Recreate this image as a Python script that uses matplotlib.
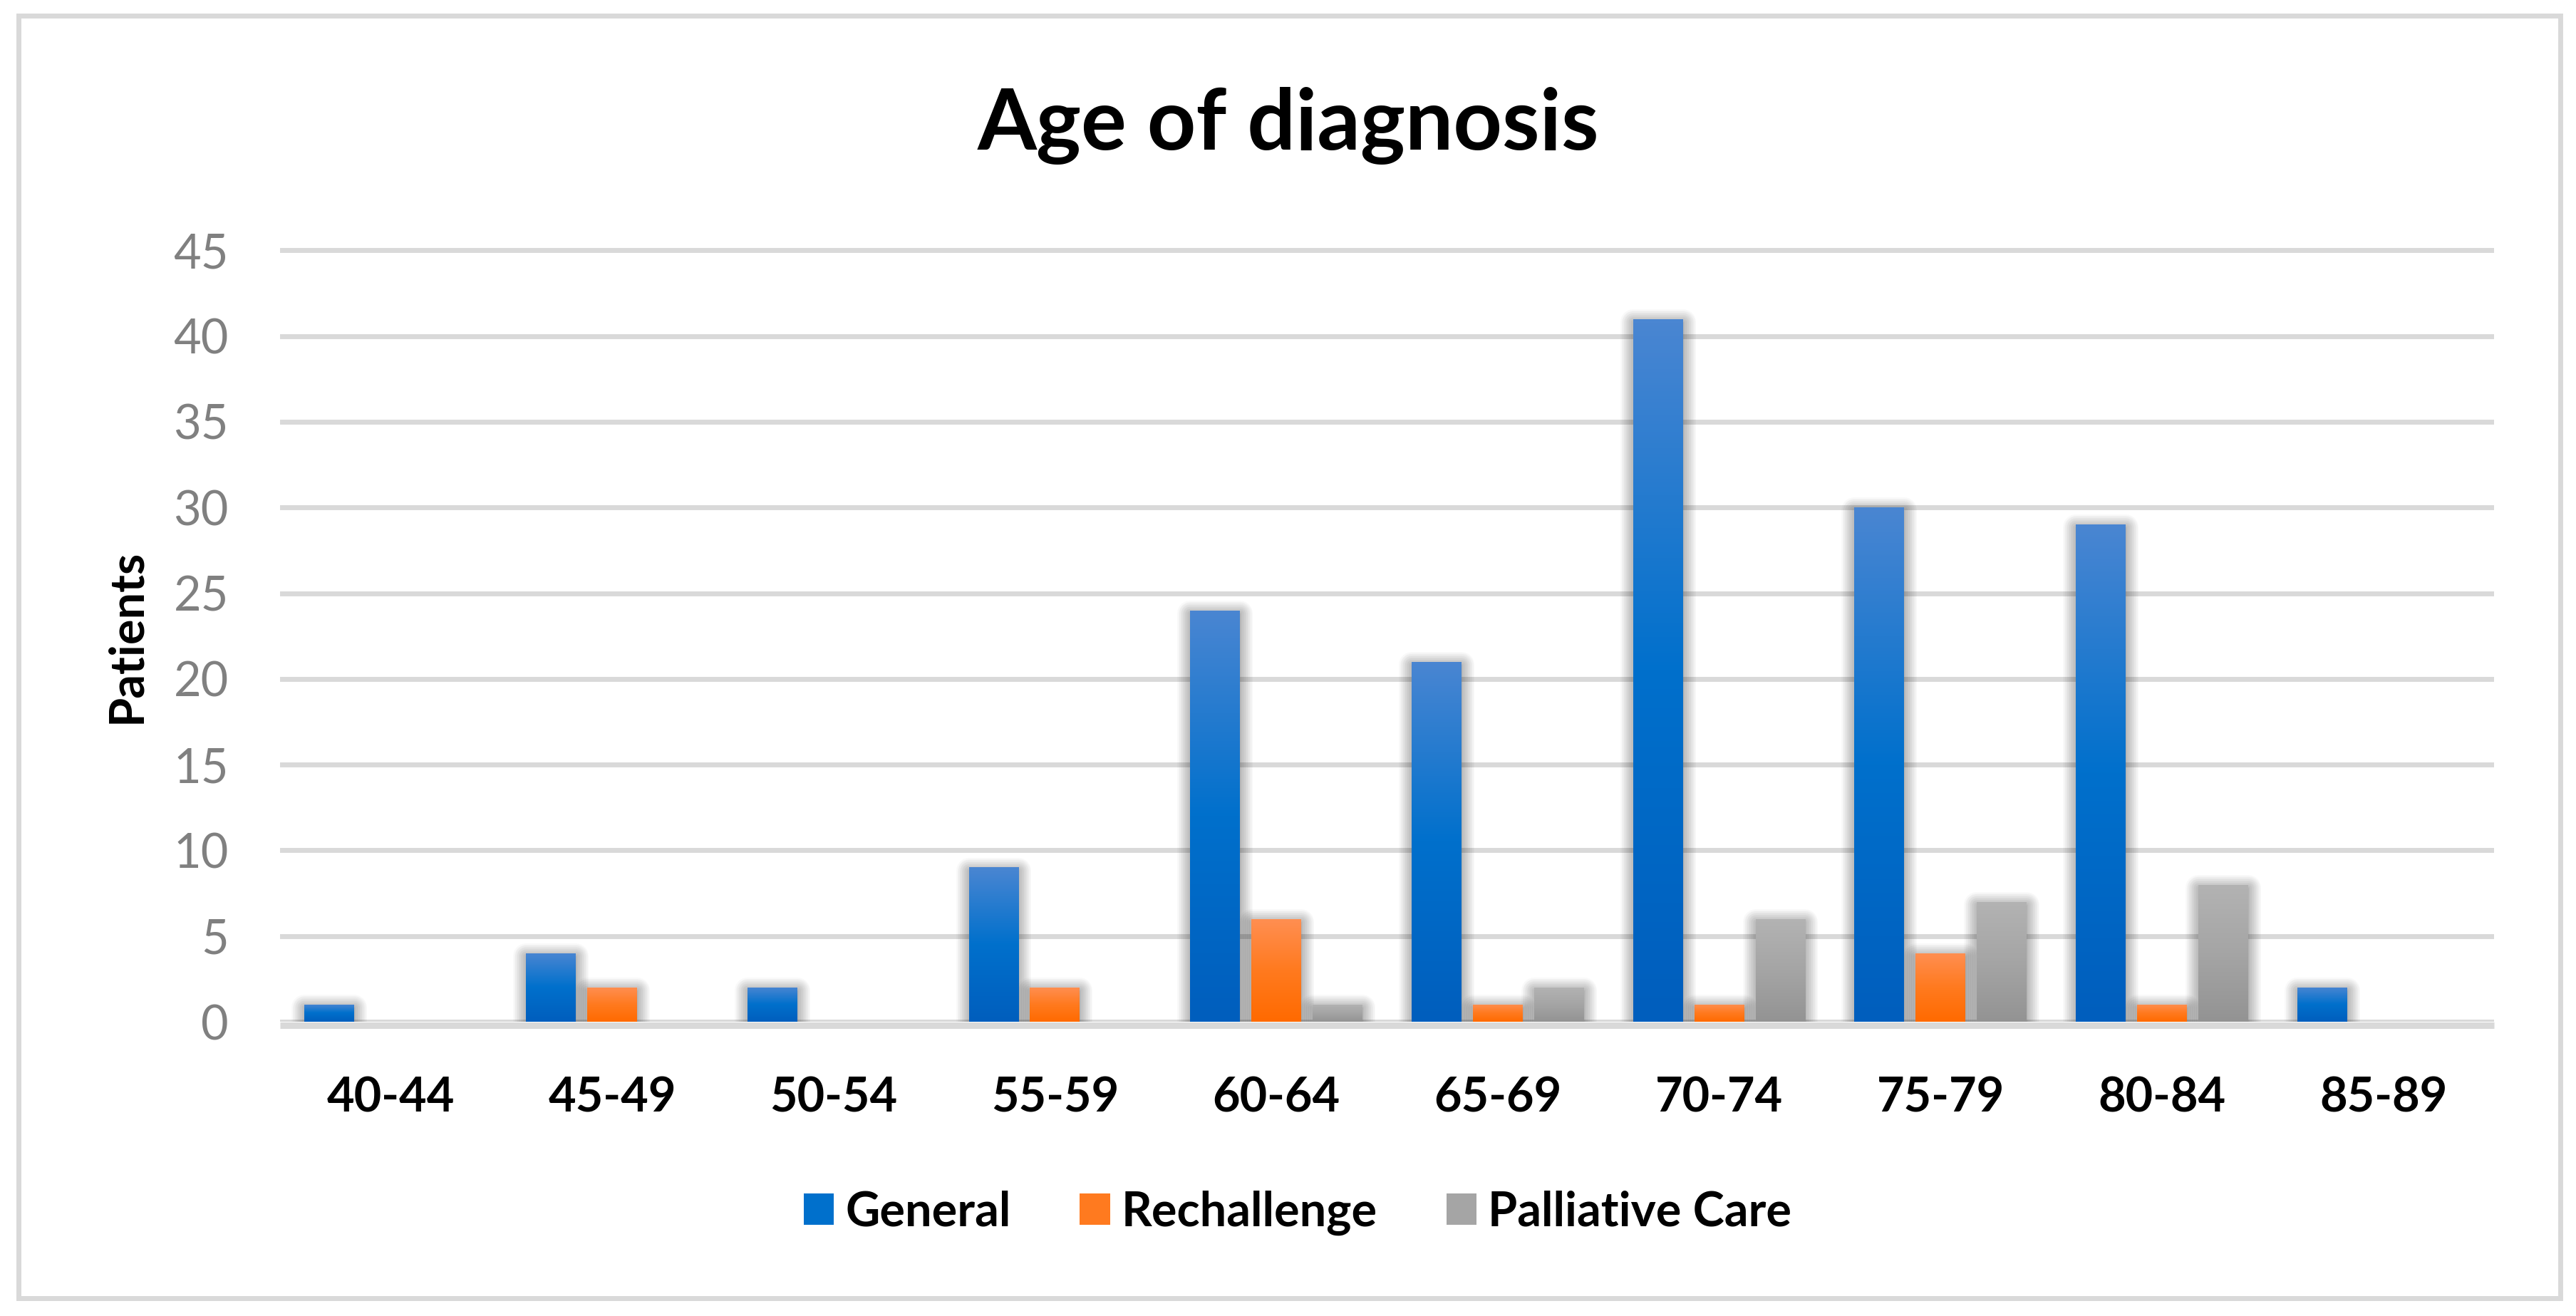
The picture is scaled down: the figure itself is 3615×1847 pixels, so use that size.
import matplotlib.pyplot as plt
import matplotlib.patheffects as pe
import matplotlib.transforms as mtransforms
from matplotlib.colors import LinearSegmentedColormap
from matplotlib.patches import Rectangle
import numpy as np

# Data
age_groups = ['40-44', '45-49', '50-54', '55-59', '60-64',
              '65-69', '70-74', '75-79', '80-84', '85-89']
general = [1, 4, 2, 9, 24, 21, 41, 30, 29, 2]
rechallenge = [0, 2, 0, 2, 6, 1, 1, 4, 1, 0]
palliative = [0, 0, 0, 0, 1, 2, 6, 7, 8, 0]
series_names = ['General', 'Rechallenge', 'Palliative Care']
y_ticks = [0, 5, 10, 15, 20, 25, 30, 35, 40, 45]

# (dark bottom, base middle, light top) for each series gradient
series_colors = [('#005EBD', '#0070CC', '#4A86D2'),
                 ('#FF6A00', '#FF7A1F', '#FF8F52'),
                 ('#939393', '#A5A5A5', '#B3B3B3')]

plt.rcParams['font.family'] = ['Lato', 'DejaVu Sans']

W, H = 3616, 1847
fig = plt.figure(figsize=(W / 100, H / 100), dpi=100)
ax = fig.add_axes([393 / W, (H - 1434) / H, 3107 / W, 46 * 24.06 / H])

x = np.arange(len(age_groups))
width = 0.225
step = 0.2767

# soft shadow behind the bars, pushed down a little
glow = [pe.Stroke(linewidth=w * 0.72, foreground='black', alpha=0.024,
                  joinstyle='round', offset=(0, -3))
        for w in range(36, 0, -3)]
grad = np.linspace(0, 1, 256).reshape(-1, 1)

containers = []
for i, (vals, name, (dark, base, light)) in enumerate(zip([general, rechallenge, palliative],
                                                          series_names, series_colors)):
    pos = x + (i - 1) * step
    shadow = ax.bar(pos, vals, width, color='#808080', zorder=2)
    for p, v in zip(shadow.patches, vals):
        if v == 0:
            p.set_visible(False)
        else:
            p.set_path_effects(glow)

    bars = ax.bar(pos, vals, width, color=base, zorder=3)
    containers.append(bars)
    cmap = LinearSegmentedColormap.from_list(name, [dark, base, light])
    for p in bars.patches:
        if p.get_height() == 0:
            continue
        im = ax.imshow(grad, cmap=cmap, origin='lower', aspect='auto',
                       extent=(p.get_x(), p.get_x() + p.get_width(), 0, p.get_height()),
                       zorder=3.1, interpolation='bilinear')
        im.set_clip_path(p)

ax.set_xlim(-0.5, 9.5)
ax.set_ylim(0, 46)

ax.set_yticks(y_ticks)
ax.set_xticks(x, age_groups, fontweight='bold')
ax.tick_params(axis='y', length=0, pad=52, labelcolor='#808080', labelsize=48)
ax.tick_params(axis='x', length=0, pad=55, labelcolor='black', labelsize=48)

ax.set_axisbelow(True)
ax.yaxis.grid(True, color='#d9d9d9', linewidth=5)
ax.xaxis.grid(False)
for s in ax.spines.values():
    s.set_visible(False)

# category axis line sitting just under zero
trans = mtransforms.offset_copy(ax.get_yaxis_transform(), fig=fig, x=0, y=-4.5, units='dots')
ax.plot([0, 1], [0, 0], transform=trans, color='#d9d9d9', lw=6.5, zorder=2.5,
        clip_on=False, solid_capstyle='butt')

fig.text(0.5, 1 - 210 / H, 'Age of diagnosis', ha='center', va='baseline',
         fontsize=86, fontweight='bold')
fig.text(178 / W, 1 - 893 / H, 'Patients', rotation=90, ha='center', va='center',
         fontsize=48, fontweight='bold')

fig.legend(containers, series_names, loc='center', bbox_to_anchor=(1821 / W, 1 - 1702 / H),
           ncol=3, frameon=False, prop={'weight': 'bold', 'size': 48},
           handlelength=0.64, handleheight=0.63, handletextpad=0.24, columnspacing=1.45)

# outer chart border
fig.add_artist(Rectangle((26.5 / W, 1 - 1822 / H), (3593.5 - 26.5) / W, (1822 - 22) / H,
                         transform=fig.transFigure, fill=False, edgecolor='#d9d9d9', linewidth=5))

fig.savefig('out.png', dpi=100, facecolor='white')
